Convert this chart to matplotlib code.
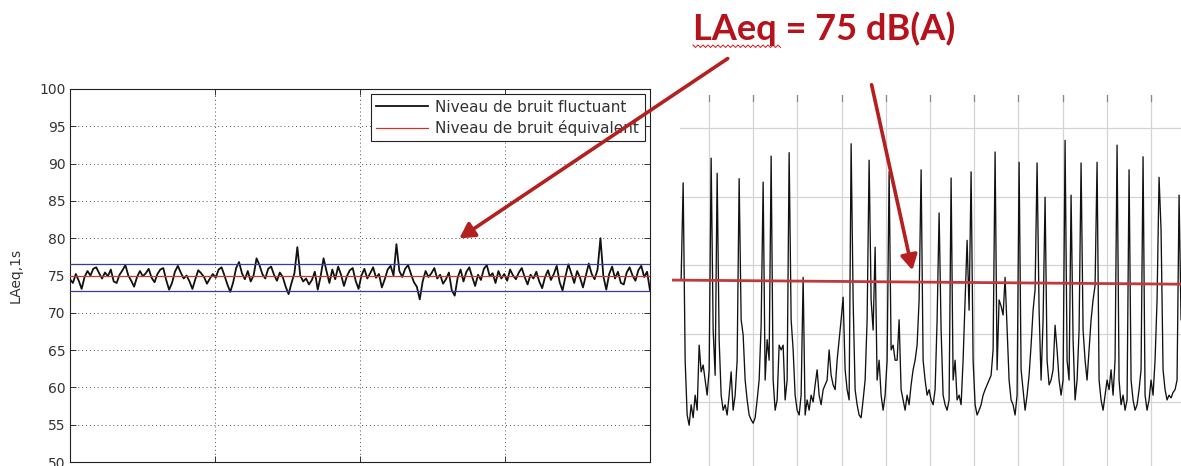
import numpy as np
import matplotlib
matplotlib.use("Agg")
import matplotlib.pyplot as plt
from matplotlib.patches import FancyArrowPatch
from matplotlib.lines import Line2D

plt.rcParams['font.family'] = ['DejaVu Sans']

# ---------------- data ----------------
# Left panel: 1 s LAeq, fluctuating noise (dB(A))
left_db = [
    74.5, 74.0, 75.2, 74.3, 73.2, 74.8, 75.6, 75.0, 75.9, 76.1,
    75.3, 74.6, 75.4, 74.9, 75.8, 74.2, 74.0, 75.1, 75.7, 76.4,
    75.0, 74.3, 73.5, 74.8, 75.6, 74.9, 75.3, 75.9, 74.7, 74.1,
    75.2, 75.8, 76.0, 74.4, 73.1, 74.0, 75.5, 76.3, 75.4, 74.6,
    75.0, 74.2, 73.2, 74.5, 75.7, 75.3, 74.8, 73.9, 74.6, 75.2,
    74.7, 75.8, 76.1, 75.0, 73.8, 72.8, 74.1, 76.0, 76.8, 75.3,
    74.5, 75.6, 74.2, 75.0, 77.3, 76.4, 75.2, 74.6, 75.9, 76.2,
    75.1, 74.3, 75.4, 74.8, 73.5, 72.5, 74.0, 75.3, 78.8, 75.0,
    74.2, 74.6, 73.8, 74.4, 75.5, 73.1, 74.9, 77.3, 75.6, 74.0,
    75.8, 74.5, 76.2, 75.1, 73.6, 74.9, 75.7, 76.0, 74.3, 73.2,
    75.0, 75.9, 74.6, 75.3, 76.1, 74.7, 75.2, 73.4, 74.5, 75.8,
    76.3, 75.0, 79.2, 75.6, 74.8, 75.9, 76.4, 75.2, 74.1, 73.5,
    71.8, 74.2, 75.6, 74.8, 75.3, 76.0, 74.6, 75.1, 73.9, 74.5,
    75.4, 73.0, 72.3, 74.7, 75.8, 74.2, 75.5, 76.1, 74.8, 73.6,
    75.1, 74.4, 75.9, 76.4, 74.9, 75.3, 74.0, 75.6, 74.6, 75.2,
    74.3, 75.8, 75.0, 74.5, 75.4, 76.0, 74.8, 73.8, 75.1, 74.6,
    75.5, 74.2, 73.3, 74.8, 75.7, 74.4, 75.2, 76.3, 74.1, 73.0,
    74.9, 76.5, 75.3, 74.0, 75.6, 74.7, 73.4, 75.0, 76.6, 75.2,
    74.5, 75.8, 80.0, 74.9, 73.1, 75.2, 76.2, 74.6, 75.5, 74.0,
    73.8, 75.4, 76.1, 75.0, 74.3, 75.7, 76.3, 74.8, 75.5, 73.0,
]
left_duration = 3600           # s
left_leq = 75.0                # equivalent level
left_band = [76.6, 72.9]       # blue band limits
left_yticks = [50, 55, 60, 65, 70, 75, 80, 85, 90, 95, 100]
left_xticks = [0, 900, 1800, 2700, 3600]
legend_labels = ["Niveau de bruit fluctuant", "Niveau de bruit équivalent"]

# Right panel: traffic noise with passing-vehicle peaks
right_db = [
    78.0, 92.0, 66.1, 58.1, 56.6, 59.6, 57.7, 61.0, 58.8, 68.3,
    64.4, 65.4, 63.2, 61.0, 64.7, 95.6, 70.5, 63.9, 93.4, 69.1,
    61.0, 58.8, 59.6, 58.1, 61.0, 64.4, 58.8, 61.0, 66.1, 92.6,
    72.0, 69.8, 63.2, 60.3, 58.1, 57.4, 56.9, 57.7, 60.3, 63.2,
    71.2, 92.1, 63.2, 69.1, 66.1, 95.9, 63.2, 58.8, 60.3, 68.3,
    67.6, 68.3, 60.3, 63.2, 96.4, 72.0, 67.6, 61.0, 58.8, 58.1,
    61.0, 78.2, 58.1, 60.3, 58.8, 61.0, 60.0, 62.5, 64.7, 61.0,
    59.6, 61.8, 62.5, 63.2, 67.6, 63.9, 62.5, 61.8, 66.1, 69.1,
    72.0, 75.3, 64.7, 61.8, 60.3, 97.7, 74.9, 61.8, 59.6, 58.1,
    57.7, 60.3, 63.2, 72.0, 95.3, 74.9, 70.5, 82.6, 63.2, 66.1,
    61.0, 58.8, 61.0, 66.1, 93.6, 67.6, 68.3, 66.1, 66.1, 72.0,
    61.8, 60.3, 58.8, 61.0, 59.6, 62.5, 64.7, 66.1, 68.3, 74.9,
    93.9, 66.1, 63.2, 61.0, 61.8, 60.3, 59.6, 61.8, 72.0, 87.6,
    70.5, 61.0, 59.6, 58.8, 60.3, 92.7, 63.2, 66.1, 60.3, 61.0,
    59.6, 66.1, 74.9, 83.6, 73.4, 93.6, 66.1, 59.6, 58.1, 58.8,
    59.6, 61.0, 61.8, 62.5, 63.2, 63.9, 67.6, 96.5, 64.7, 74.9,
    74.0, 72.7, 78.2, 70.5, 63.2, 60.3, 59.6, 58.1, 61.0, 95.0,
    64.7, 61.8, 58.8, 61.0, 63.9, 68.3, 73.4, 76.4, 94.9, 73.4,
    63.2, 72.0, 89.9, 66.1, 62.5, 63.2, 64.7, 71.2, 67.6, 63.2,
    61.0, 63.2, 98.2, 66.1, 63.2, 90.2, 69.1, 60.3, 63.2, 70.5,
    94.9, 70.5, 66.1, 63.2, 67.6, 72.0, 74.9, 77.0, 95.0, 63.2,
    60.3, 58.8, 61.0, 63.2, 61.8, 64.7, 61.0, 66.1, 97.5, 63.2,
    59.6, 61.0, 58.8, 60.3, 93.9, 63.2, 60.3, 58.8, 59.6, 61.8,
    64.7, 95.8, 61.0, 58.8, 60.3, 63.2, 61.0, 66.1, 74.9, 92.8,
    85.1, 64.7, 61.8, 60.3, 61.0, 60.6, 61.4, 61.8, 63.2, 90.2,
    72.0,
]
right_t_range = [-0.63, 10.68]          # time span of the trace (grid units)
right_leq = [77.8, 77.2]                # red LAeq line, start / end
right_hgrid = [60, 70, 80, 90, 100]
right_vgrid = [0, 1, 2, 3, 4, 5, 6, 7, 8, 9, 10]

title_text = "LAeq = 75 dB(A)"

# ---------------- figure ----------------
W, H = 1181, 466
fig = plt.figure(figsize=(W / 100, H / 100), dpi=100)
fig.patch.set_facecolor("white")

def fx(px):
    return px / W

def fy(py):
    return 1 - py / H

# ---- left MATLAB-style axes ----
axL = fig.add_axes([fx(70), fy(462), fx(650) - fx(70), fy(89) - fy(462)])
tL = np.linspace(0, left_duration, len(left_db))
axL.plot(tL, left_db, color="#111111", lw=1.3, label=legend_labels[0], zorder=3)
axL.axhline(left_leq, color="#c0392b", lw=0.9, label=legend_labels[1], zorder=4)
for b in left_band:
    axL.axhline(b, color="#3a3a9a", lw=0.9, zorder=4)
axL.set_xlim(0, left_duration)
axL.set_ylim(50, 100)
axL.set_yticks(left_yticks)
axL.set_xticks(left_xticks)
axL.set_xticklabels([""] * len(left_xticks))
axL.grid(True, linestyle=(0, (1, 3)), color="#555555", lw=0.7)
axL.tick_params(direction="in", length=4, right=True, top=True,
                labelsize=10, colors="#333333", width=0.7, pad=3)
for s in axL.spines.values():
    s.set_color("#222222")
    s.set_linewidth(0.8)
axL.set_ylabel("LAeq,1s", fontsize=10, color="#333333", labelpad=12)
leg = axL.legend(loc="upper right", fontsize=11, frameon=True, fancybox=False,
                 edgecolor="#222222", framealpha=1, handlelength=3.4,
                 borderaxespad=0.35, borderpad=0.35, labelspacing=0.35,
                 handletextpad=0.5)
leg.get_frame().set_linewidth(0.8)
for txt in leg.get_texts():
    txt.set_color("#333333")

# ---- right traffic-noise axes ----
ylo = 60 - (466 - 402) / 6.85
yhi = 60 + (402 - 95) / 6.85
xlo = (672 - 709) / 44.2
xhi = (1181 - 709) / 44.2
axR = fig.add_axes([fx(672), 0, 1 - fx(672), fy(95)])
axR.set_xlim(xlo, xhi)
axR.set_ylim(ylo, yhi)
axR.axis("off")
for v in right_vgrid:
    axR.plot([v, v], [ylo, yhi], color="#d4d4d4", lw=0.9, zorder=1)
    axR.plot([v, v], [yhi - 0.9, yhi], color="#888888", lw=0.9, zorder=1)
for h in right_hgrid:
    axR.plot([right_t_range[0] - 0.03, xhi], [h, h], color="#d4d4d4", lw=0.9, zorder=1)
tR = np.linspace(right_t_range[0], right_t_range[1], len(right_db))
axR.plot(tR, right_db, color="#111111", lw=0.95, zorder=2)
axR.plot([xlo, xhi], right_leq, color="#c0393b", lw=2.0, zorder=3)

# ---- title and arrows ----
fig.text(fx(693), fy(40), title_text, fontsize=26, fontweight="bold",
         color="#b5121b", family=["Lato", "DejaVu Sans"], va="baseline")
wx = np.arange(693, 781, 2.5)
wy = np.where(np.arange(len(wx)) % 2 == 0, 45, 47.5)
fig.add_artist(Line2D(fx(wx), fy(wy), color="#d03030", lw=0.8))

arrow_color = "#b3201f"
for (x0, y0), (x1, y1) in [((730, 57), (457, 240)), ((871, 82), (913, 273))]:
    arr = FancyArrowPatch((fx(x0), fy(y0)), (fx(x1), fy(y1)),
                          transform=fig.transFigure,
                          arrowstyle="-|>,head_length=9,head_width=5",
                          mutation_scale=1, color=arrow_color, lw=2.6)
    fig.add_artist(arr)

fig.savefig("out.png", dpi=100)
